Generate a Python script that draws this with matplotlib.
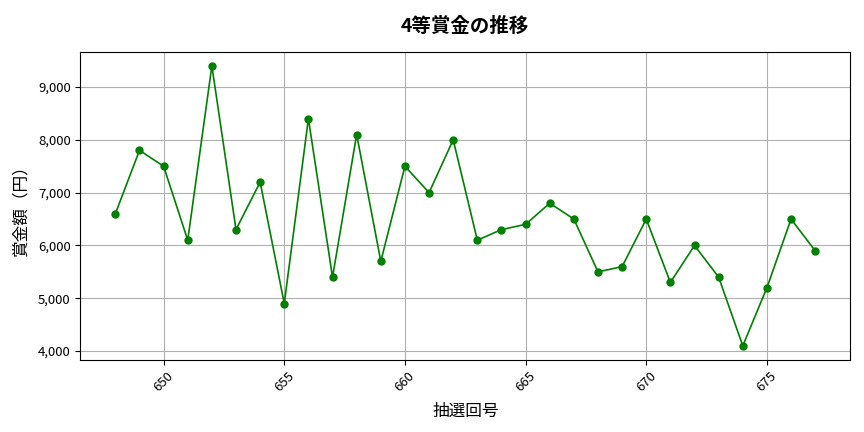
import matplotlib
matplotlib.use("Agg")
import matplotlib.pyplot as plt
from matplotlib.ticker import FuncFormatter

plt.rcParams["font.family"] = ["Noto Sans CJK JP", "DejaVu Sans"]

# 抽選回号と4等賞金
draws = list(range(648, 678))
prizes = [
    6600, 7800, 7500, 6100, 9400, 6300, 7200, 4900, 8400, 5400,
    8100, 5700, 7500, 7000, 8000, 6100, 6300, 6400, 6800, 6500,
    5500, 5600, 6500, 5300, 6000, 5400, 4100, 5200, 6500, 5900,
]

fig, ax = plt.subplots(figsize=(8.64, 4.32), dpi=100)

ax.plot(draws, prizes, marker="o", color="green", linewidth=1.2, markersize=5)

ax.set_title("4等賞金の推移", fontsize=14, fontweight="bold", pad=14)
ax.set_xlabel("抽選回号", fontsize=12, labelpad=6)
ax.set_ylabel("賞金額（円）", fontsize=12, labelpad=6)

ax.yaxis.set_major_formatter(FuncFormatter(lambda v, p: f"{int(v):,}"))
ax.tick_params(axis="both", labelsize=9.5)
plt.setp(ax.get_xticklabels(), rotation=45)

ax.grid(True, color="#b0b0b0", linewidth=0.8)

fig.subplots_adjust(left=0.093, right=0.984, top=0.88, bottom=0.167)
fig.savefig("out.png", dpi=100)
